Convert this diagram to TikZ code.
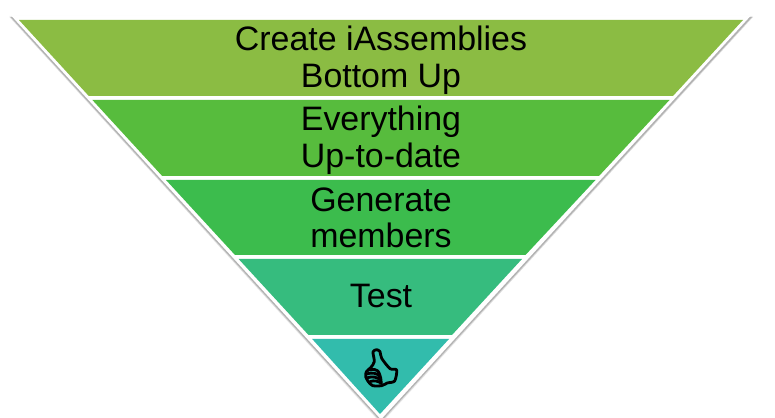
\documentclass[tikz,border=0pt]{standalone}
\usepackage{fontspec}
\setmainfont{Liberation Sans}
\definecolor{bandA}{RGB}{139,188,67}
\definecolor{bandB}{RGB}{87,188,61}
\definecolor{bandC}{RGB}{60,188,77}
\definecolor{bandD}{RGB}{54,188,126}
\definecolor{bandE}{RGB}{50,188,172}
\tikzset{
  bandtext/.style={align=center,text=black,font=\fontsize{19.3}{20.8}\selectfont},
  thumbline/.style={draw=black,line width=1.6pt,line join=round,line cap=round}
}
\begin{document}
\begin{tikzpicture}[x=0.02cm,y=-0.02cm]
    \useasboundingbox (0,0) rectangle (775,418);
    % outer edge and its soft shadow
    \fill[black!3] (9,16) -- (753,16) -- (381,424) -- cycle;
    \fill[black!14] (9.5,17) -- (753,17) -- (381,423) -- cycle;
    \fill[black!30] (10.5,17) -- (752,17) -- (381,421.5) -- cycle;
    \fill[white] (11.5,16) -- (750.5,16) -- (381,419.5) -- cycle;
    % bands, top to bottom
    \fill[bandA] (19,20) -- (743,20) -- (673,96) -- (88.8,96) -- cycle;
    \fill[bandB] (92.4,100) -- (669.5,100) -- (599,176) -- (162.2,176) -- cycle;
    \fill[bandC] (166,180) -- (595.5,180) -- (525.5,255) -- (235,255) -- cycle;
    \fill[bandD] (238.6,259) -- (522,259) -- (452,335) -- (308.5,335) -- cycle;
    \fill[bandE] (312.2,339) -- (449,339) -- (380,414) -- cycle;
    % labels
    \node[bandtext] (create) at (381,60) {Create iAssemblies\\Bottom Up};
    \node[bandtext] (everything) at (381,140) {Everything\\Up-to-date};
    \node[bandtext] (generate) at (381,218) {Generate\\members};
    \node[bandtext] (test) at (381,296) {Test};
    % thumb
    \begin{scope}[shift={(300,320)},x=0.00667cm,y=-0.00667cm]
      \draw[thumbline] plot[smooth cycle,tension=0.45] coordinates {(230,89) (219,96) (223,125) (212,143) (199,155) (197,170) (205,185) (218,197) (245,197) (262,189) (284,183) (290,150) (270,146) (245,115) (240,95)};
      \draw[thumbline] (204,150) .. controls (220,145) and (232,150) .. (236,156);
      \draw[thumbline] (200,162) .. controls (215,156) and (232,160) .. (238,168);
      \draw[thumbline] (203,173) .. controls (218,168) and (232,172) .. (240,179);
      \draw[thumbline] (210,185) .. controls (222,180) and (235,183) .. (244,190);
      \draw[thumbline] (236,156) .. controls (242,170) and (244,180) .. (244,190);
    \end{scope}
\end{tikzpicture}
\end{document}
